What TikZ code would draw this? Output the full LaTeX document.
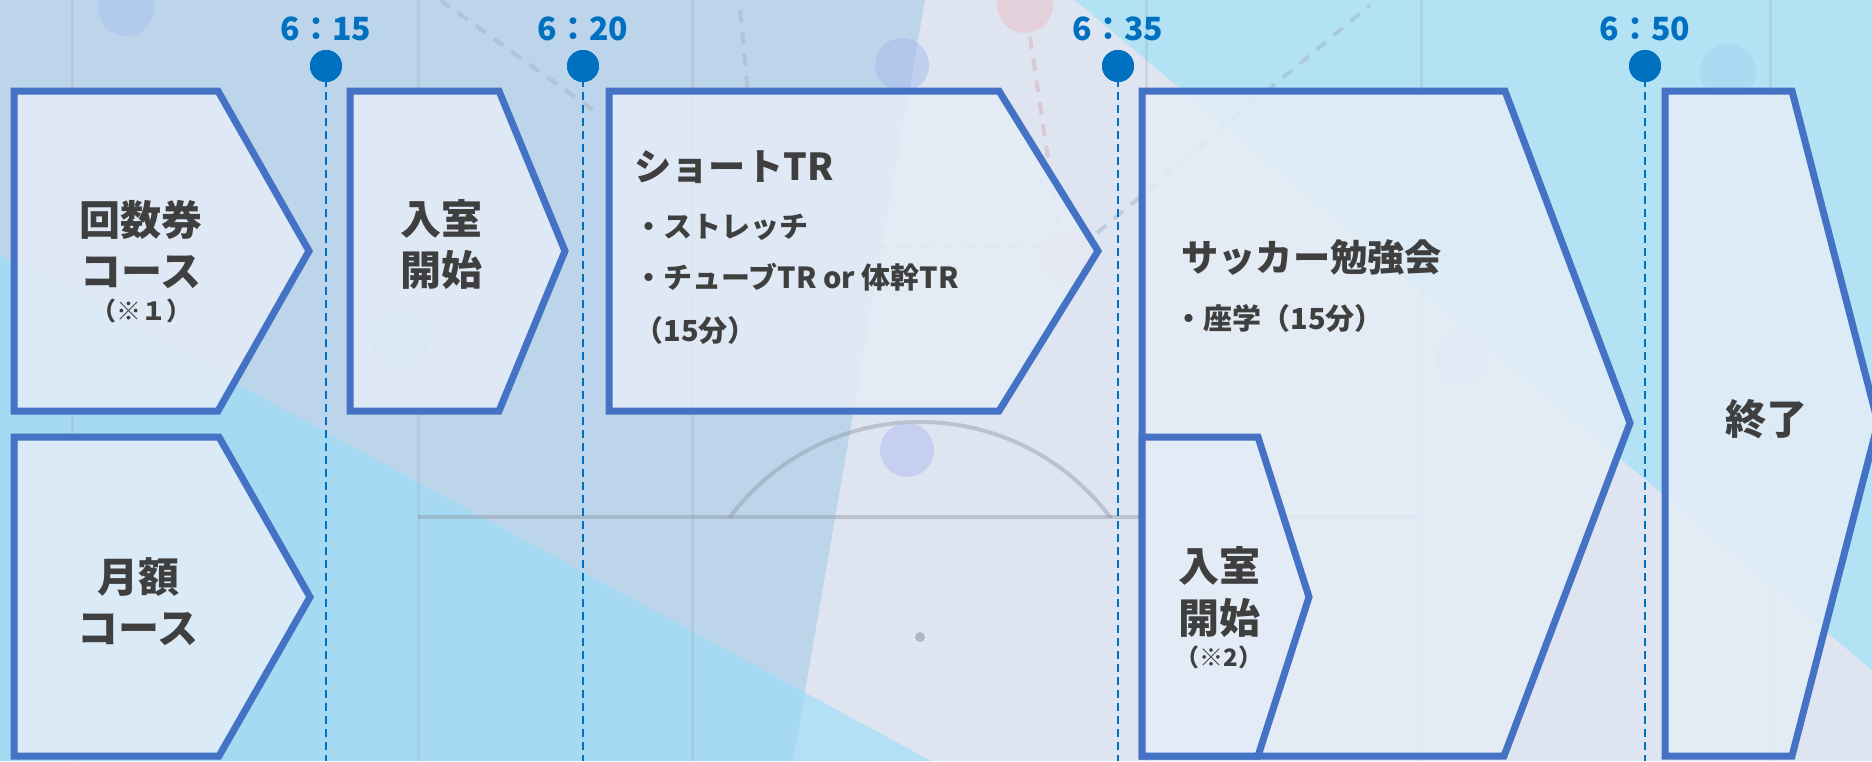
\documentclass[tikz,border=0pt]{standalone}
\usepackage{fontspec}
\setmainfont{Noto Sans CJK JP}
\definecolor{bgbase}{HTML}{BDD5EA}
\definecolor{lav}{HTML}{DFE5F0}
\definecolor{cyanbl}{HTML}{98DDF7}
\definecolor{cyantr}{HTML}{B3E2F4}
\definecolor{boxline}{HTML}{4472C4}
\definecolor{boxfill}{HTML}{E4EDF7}
\definecolor{timeblue}{HTML}{0070C0}
\definecolor{txt}{HTML}{3F3F3F}
\definecolor{fieldline}{HTML}{8FA0B8}
\definecolor{pitchgray}{HTML}{9099A8}
\definecolor{passgray}{HTML}{A3AEC4}
\definecolor{passpink}{HTML}{D2A9BA}
\definecolor{plA}{HTML}{A9C1EC}
\definecolor{plB}{HTML}{A6BDEC}
\definecolor{plC}{HTML}{E7BFCB}
\definecolor{plD}{HTML}{A7D4F3}
\definecolor{plE}{HTML}{B5BDF0}
\definecolor{plF}{HTML}{ADC4EA}
\definecolor{plG}{HTML}{C7CFEE}
\definecolor{plH}{HTML}{E8C2CC}
\tikzset{
  stagebox/.style={draw=boxline, line width=3.5pt, fill=boxfill, fill opacity=0.85, line join=miter},
  bigtxt/.style={font=\bfseries\fontsize{20.5pt}{24pt}\selectfont, text=txt, anchor=base, inner sep=0pt},
  notetxt/.style={font=\bfseries\fontsize{12.5pt}{14pt}\selectfont, text=txt, anchor=base, inner sep=0pt},
  titletxt/.style={font=\bfseries\fontsize{18.6pt}{22pt}\selectfont, text=txt, anchor=base west, inner sep=0pt},
  itemtxt/.style={font=\bfseries\fontsize{14.5pt}{18pt}\selectfont, text=txt, anchor=base west, inner sep=0pt},
  timetxt/.style={font=\bfseries\fontsize{16pt}{18pt}\selectfont, text=timeblue, anchor=base, inner sep=0pt},
  timedot/.style={circle, fill=timeblue, minimum size=16pt, inner sep=0pt},
  timeline/.style={draw=timeblue, line width=0.75pt, dash pattern=on 4pt off 2.5pt},
  gridline/.style={draw=fieldline, line width=1.5pt, opacity=0.22},
  pitchline/.style={draw=pitchgray, line width=2.2pt, opacity=0.45},
  passline/.style={line width=2pt, dash pattern=on 6pt off 5pt, opacity=0.45},
  player/.style={opacity=0.55},
}
\begin{document}
\begin{tikzpicture}[x=0.5pt,y=-0.5pt]
\useasboundingbox (0,0) rectangle (1872,761);
\clip (0,0) rectangle (1872,761);
% background
\fill[bgbase] (0,0) rectangle (1872,761);
\fill[lav] (925,0) -- (1075,0) -- (1872,670) -- (1872,761) -- (793,761) -- cycle;
\fill[cyantr] (1075,0) -- (1872,0) -- (1872,670) -- cycle;
\fill[cyanbl, opacity=0.62] (0,255) -- (931,761) -- (0,761) -- cycle;
% field lines
\foreach \gx in {72,418,692,1146,1421,1770} \draw[gridline] (\gx,0) -- (\gx,761);
\draw[pitchline] (418,517) -- (1421,517);
\begin{scope}
  \clip (0,0) rectangle (1872,517);
  \draw[pitchline, line width=2pt] (920,659.5) circle[radius=237.5];
\end{scope}
\fill[pitchgray, opacity=0.6] (920,637) circle[radius=5];
% faint players and passes
\draw[passline, draw=passgray] (440,0) -- (600,115);
\draw[passline, draw=passgray] (740,10) -- (748,95);
\draw[passline, draw=passpink] (1030,37) -- (1060,240);
\draw[passline, draw=passgray] (1097,233) -- (1370,5);
\draw[passline, draw=passgray, opacity=0.3] (700,247) -- (1046,247);
\fill[plA, player] (126,8) circle[radius=28];
\fill[plB, player] (902,65) circle[radius=27];
\fill[plC, player] (1025,5) circle[radius=28];
\fill[plD, player] (1728,72) circle[radius=28];
\fill[plE, player] (907,450) circle[radius=27];
\fill[plF, player] (400,337) circle[radius=30];
\fill[plG, player] (1462,358) circle[radius=27];
\fill[plH, player] (1067,257) circle[radius=27];
% time lines
\node[timedot] (d1) at (326,66) {};
\node[timedot] (d2) at (583,66) {};
\node[timedot] (d3) at (1118,66) {};
\node[timedot] (d4) at (1645,66) {};
\coordinate (e1) at (326,761);
\coordinate (e2) at (583,761);
\coordinate (e3) at (1118,761);
\coordinate (e4) at (1645,761);
\draw[timeline] (d1.center) -- (e1);
\draw[timeline] (d2.center) -- (e2);
\draw[timeline] (d3.center) -- (e3);
\draw[timeline] (d4.center) -- (e4);
\node[timedot] at (d1) {};
\node[timedot] at (d2) {};
\node[timedot] at (d3) {};
\node[timedot] at (d4) {};
\node[timetxt] (t1) at (326,40) {6：15};
\node[timetxt] (t2) at (583,40) {6：20};
\node[timetxt] (t3) at (1118,40) {6：35};
\node[timetxt] (t4) at (1645,40) {6：50};
% stage shapes
\draw[stagebox] (14,91) -- (218,91) -- (309,251) -- (218,411) -- (14,411) -- cycle;
\draw[stagebox] (14,437) -- (219,437) -- (310,597) -- (219,756) -- (14,756) -- cycle;
\draw[stagebox] (350,91) -- (499,91) -- (565,251) -- (499,411) -- (350,411) -- cycle;
\draw[stagebox] (609,91) -- (999,91) -- (1098,251) -- (999,411) -- (609,411) -- cycle;
\draw[stagebox] (1142,91) -- (1505,91) -- (1630,423) -- (1504,756) -- (1142,756) -- cycle;
\draw[stagebox] (1142,437) -- (1258,437) -- (1309,597) -- (1258,756) -- (1142,756) -- cycle;
\draw[stagebox] (1665,91) -- (1792,91) -- (1878,423) -- (1792,756) -- (1665,756) -- cycle;
% texts
\node[bigtxt] (a1) at (141,235) {回数券};
\node[bigtxt] (a2) at (141,286) {コース};
\node[notetxt] (a3) at (141,320) {（※１）};
\node[bigtxt] (m1) at (138,592) {月額};
\node[bigtxt] (m2) at (138,643) {コース};
\node[bigtxt] (b1) at (441,234.5) {入室};
\node[bigtxt] (b2) at (441,285) {開始};
\node[titletxt] (c0) at (634,180) {ショートTR};
\node[itemtxt] (c1) at (634,237) {・ストレッチ};
\node[itemtxt] (c2) at (634,288) {・チューブTR or 体幹TR};
\node[itemtxt] (c3) at (634,341) {（15分）};
\node[titletxt] (s0) at (1181,271) {サッカー勉強会};
\node[itemtxt] (s1) at (1174,329) {・座学（15分）};
\node[bigtxt] (r1) at (1219,581) {入室};
\node[bigtxt] (r2) at (1219,633) {開始};
\node[notetxt, font=\bfseries\fontsize{12pt}{14pt}\selectfont] (r3) at (1219,666) {（※2）};
\node[bigtxt] (f1) at (1766,434) {終了};
\end{tikzpicture}
\end{document}
